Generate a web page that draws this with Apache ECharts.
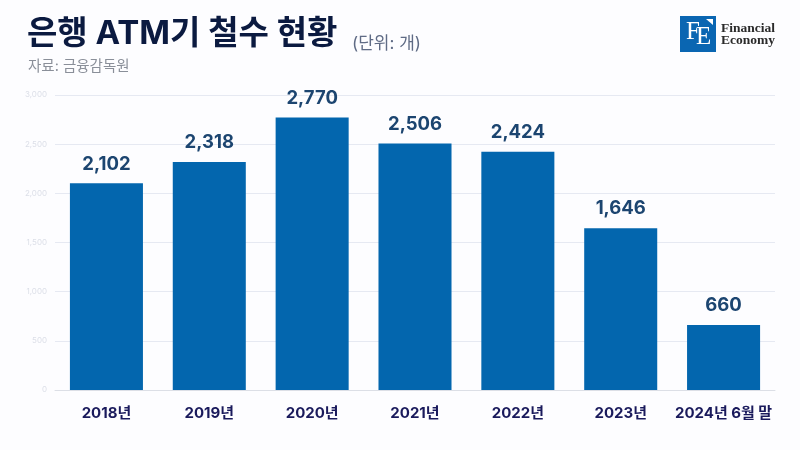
<!DOCTYPE html>
<html>
<head>
<meta charset="utf-8">
<style>
  html, body { margin: 0; padding: 0; background: #fdfdff; }
  #chart { width: 800px; height: 450px; }
</style>
<script src="https://cdn.jsdelivr.net/npm/echarts@6/dist/echarts.min.js"></script>
</head>
<body>
<div id="chart"></div>
<script>
const categories = ['2018년', '2019년', '2020년', '2021년', '2022년', '2023년', '2024년 6월 말']
const atmRemoved = [2102, 2318, 2770, 2506, 2424, 1646, 660]
const axisMax = 3000
const axisStep = 500

const fontFamily = 'Inter, "Noto Sans CJK KR", sans-serif'
const chart = echarts.init(document.getElementById('chart'))

chart.setOption({
    backgroundColor: '#fdfdff',
    animation: false,
    grid: { left: 55, right: 25, top: 95, bottom: 60 },
    xAxis: {
        type: 'category',
        data: categories,
        axisLine: { lineStyle: { color: '#dcdfe6', width: 1 } },
        axisTick: { show: false },
        axisLabel: {
            margin: 16,
            interval: 0,
            color: '#1a1a5c',
            fontFamily: fontFamily,
            fontSize: 15,
            fontWeight: 700
        }
    },
    yAxis: {
        type: 'value',
        min: 0,
        max: axisMax,
        interval: axisStep,
        axisLine: { show: false },
        axisTick: { show: false },
        splitLine: { lineStyle: { color: '#e6e9f2', width: 1 } },
        axisLabel: {
            margin: 8,
            color: '#dcdfe8',
            fontFamily: fontFamily,
            fontSize: 8,
            formatter: v => v.toLocaleString('en-US')
        }
    },
    series: [{
        type: 'bar',
        data: atmRemoved,
        barWidth: '71%',
        itemStyle: { color: '#0366ae' },
        label: {
            show: true,
            position: 'top',
            distance: 10,
            color: '#1c4570',
            fontFamily: fontFamily,
            fontSize: 18.5,
            fontWeight: 700,
            formatter: p => p.value.toLocaleString('en-US')
        }
    }],
    graphic: [
        { type: 'text', left: 27, top: 18, style: { text: '은행 ATM기 철수 현황', fill: '#0b1a40', font: '700 33px ' + fontFamily } },
        { type: 'text', left: 352, top: 35, style: { text: '(단위: 개)', fill: '#5f6b85', font: '400 17px ' + fontFamily } },
        { type: 'text', left: 28, top: 59, style: { text: '자료: 금융감독원', fill: '#8a8f99', font: '400 14.5px ' + fontFamily } },
        // 로고
        { type: 'rect', shape: { x: 680, y: 16, width: 36, height: 36 }, style: { fill: '#0a66b2' } },
        { type: 'polygon', shape: { points: [[706, 19], [713, 19], [713, 25]] }, style: { fill: '#ffffff' } },
        { type: 'text', left: 686, top: 20, style: { text: 'F', fill: '#ffffff', font: '400 25px "Liberation Serif", serif' } },
        { type: 'text', left: 696, top: 25, style: { text: 'E', fill: '#ffffff', font: '400 25px "Liberation Serif", serif' } },
        { type: 'text', left: 721, top: 22, style: { text: 'Financial', fill: '#2a2a2a', font: '700 13.5px "Liberation Serif", serif' } },
        { type: 'text', left: 721, top: 34, style: { text: 'Economy', fill: '#2a2a2a', font: '700 13.5px "Liberation Serif", serif' } }
    ]
})
</script>
</body>
</html>
